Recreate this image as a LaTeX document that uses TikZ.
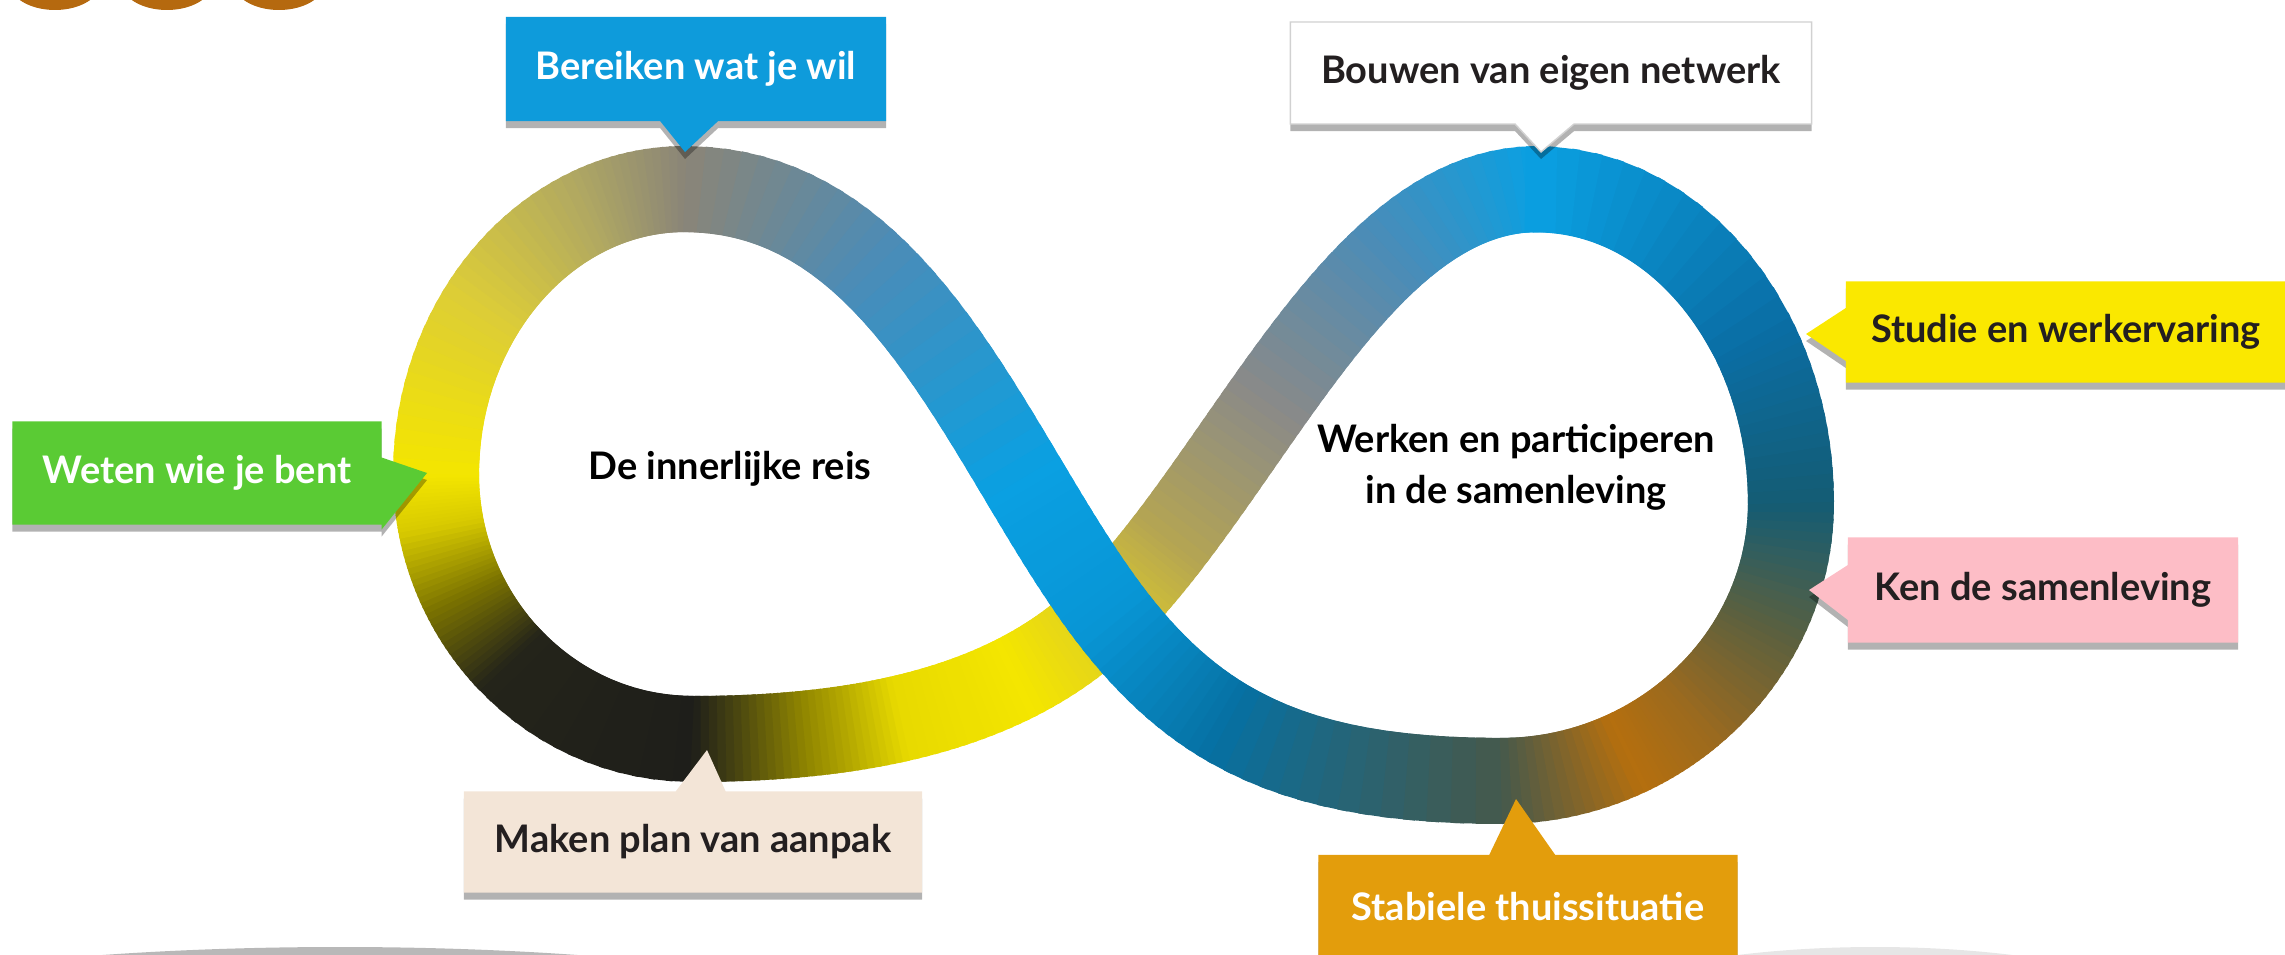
\documentclass[tikz,border=0pt]{standalone}
\usepackage{fontspec}
\setmainfont{Lato}
\usetikzlibrary{shapes.callouts,shadows}
\definecolor{cGray}{HTML}{8A8578}
\definecolor{cSteel}{HTML}{4A8CB8}
\definecolor{cBBlue}{HTML}{0AA0E2}
\definecolor{cBlue}{HTML}{0896D6}
\definecolor{cDBlueA}{HTML}{0670A2}
\definecolor{cSlate}{HTML}{45594C}
\definecolor{cOrange}{HTML}{B56F0E}
\definecolor{cOrangeB}{HTML}{9C6A1E}
\definecolor{cOliveB}{HTML}{5A6040}
\definecolor{cTeal}{HTML}{145C74}
\definecolor{cDBlueB}{HTML}{0A6EA5}
\definecolor{cGrayB}{HTML}{8A8A88}
\definecolor{cKhaki}{HTML}{B5A552}
\definecolor{cGold}{HTML}{DCCB2A}
\definecolor{cYellow}{HTML}{F4E600}
\definecolor{cYellowB}{HTML}{E8DA00}
\definecolor{cOlive}{HTML}{8F8500}
\definecolor{cBlack}{HTML}{1E1E1A}
\definecolor{cBlackB}{HTML}{24241A}
\definecolor{cOliveC}{HTML}{7A7200}
\definecolor{cYellowC}{HTML}{D8CA00}
\definecolor{cYK}{HTML}{DCCC38}
\definecolor{cKhakiB}{HTML}{B0A862}
\definecolor{labBlue}{HTML}{0E9BDB}
\definecolor{labYellow}{HTML}{FAE800}
\definecolor{labPink}{HTML}{FDBDC6}
\definecolor{labGreen}{HTML}{5ACB34}
\definecolor{labBeige}{HTML}{F3E5D7}
\definecolor{labOrange}{HTML}{E39D0C}
\definecolor{txtDark}{HTML}{231F20}
\definecolor{decoBrown}{HTML}{B5690F}
\definecolor{decoGray}{HTML}{B8B8B8}
\definecolor{decoLight}{HTML}{E6E6E6}
\tikzset{
  bandline/.style={line width=0.86cm, line cap=butt},
  lab/.style={rectangle callout, inner sep=0pt, minimum height=1.02cm,
    font=\fontsize{10.8}{13}\selectfont\bfseries,
    drop shadow={shadow xshift=0pt, shadow yshift=-2pt, opacity=0.3, fill=black}},
  centertext/.style={font=\fontsize{10.8}{14.5}\selectfont\bfseries, text=black, align=center}
}
\newcommand\bandN{14}
\newcommand\bandpiece[8]{%
  \foreach \bk in {1,...,\bandN}{%
    \pgfmathsetmacro\bandTa{#5+(#6-(#5))*(\bk-1)/\bandN}%
    \pgfmathsetmacro\bandTb{#5+(#6-(#5))*(\bk+0.6)/\bandN}%
    \pgfmathsetmacro\bandPc{100*(\bk-0.5)/\bandN}%
    \colorlet{bandc}{#8!\bandPc!#7}%
    \path (#1) .. controls (#2) and (#3) .. (#4) coordinate[pos=\bandTa] (qa) coordinate[pos=\bandTb] (qb);%
    \draw[bandline, draw=bandc] (qa) -- (qb);%
  }%
}
\begin{document}
\begin{tikzpicture}[x=0.01cm,y=-0.01cm]
\useasboundingbox (0,0) rectangle (2285,955);
\clip (0,0) rectangle (2285,955);
% decorations
\fill[decoBrown] (55,-18) ellipse [x radius=46, y radius=28];
\fill[decoBrown] (167,-18) ellipse [x radius=46, y radius=28];
\fill[decoBrown] (279,-18) ellipse [x radius=46, y radius=28];
\fill[decoGray] (340,1047) ellipse [x radius=605, y radius=100];
\fill[decoLight] (1875,1047) ellipse [x radius=350, y radius=100];
% centerline key points
\coordinate (LT) at (685,189);
\coordinate (A1) at (905,189);
\coordinate (A2) at (988,452);
\coordinate (X) at (1108,612);
\coordinate (B1) at (1198,732);
\coordinate (B2) at (1301,781);
\coordinate (RB) at (1501,781);
\coordinate (C11) at (1660,781);
\coordinate (C12) at (1791,656);
\coordinate (RR) at (1791,503);
\coordinate (C21) at (1791,330);
\coordinate (C22) at (1677,189);
\coordinate (RT) at (1537,189);
\coordinate (D1) at (1357,189);
\coordinate (D2) at (1248,472);
\coordinate (E1) at (1024,696);
\coordinate (E2) at (892,739);
\coordinate (LB) at (692,739);
\coordinate (F11) at (551,739);
\coordinate (F12) at (436,620);
\coordinate (LL) at (436,474);
\coordinate (F21) at (436,317);
\coordinate (F22) at (548,189);
% under strand
\bandpiece{RT}{D1}{D2}{X}{0}{0.3}{cBBlue}{cSteel}
\bandpiece{RT}{D1}{D2}{X}{0.3}{0.6}{cSteel}{cGrayB}
\bandpiece{RT}{D1}{D2}{X}{0.6}{0.85}{cGrayB}{cKhaki}
\bandpiece{RT}{D1}{D2}{X}{0.85}{1}{cKhaki}{cGold}
\bandpiece{X}{E1}{E2}{LB}{0}{0.3}{cGold}{cYellow}
\bandpiece{X}{E1}{E2}{LB}{0.3}{0.6}{cYellow}{cYellowB}
\bandpiece{X}{E1}{E2}{LB}{0.6}{0.8}{cYellowB}{cOlive}
\bandpiece{X}{E1}{E2}{LB}{0.8}{1}{cOlive}{cBlack}
% left loop
\bandpiece{LB}{F11}{F12}{LL}{0}{0.5}{cBlack}{cBlackB}
\bandpiece{LB}{F11}{F12}{LL}{0.5}{0.7}{cBlackB}{cOliveC}
\bandpiece{LB}{F11}{F12}{LL}{0.7}{0.88}{cOliveC}{cYellowC}
\bandpiece{LB}{F11}{F12}{LL}{0.88}{1}{cYellowC}{cYellow}
\bandpiece{LL}{F21}{F22}{LT}{0}{0.4}{cYellow}{cYK}
\bandpiece{LL}{F21}{F22}{LT}{0.4}{0.75}{cYK}{cKhakiB}
\bandpiece{LL}{F21}{F22}{LT}{0.75}{1}{cKhakiB}{cGray}
% over strand
\bandpiece{LT}{A1}{A2}{X}{0}{0.35}{cGray}{cSteel}
\bandpiece{LT}{A1}{A2}{X}{0.35}{0.75}{cSteel}{cBBlue}
\bandpiece{LT}{A1}{A2}{X}{0.75}{1}{cBBlue}{cBlue}
\bandpiece{X}{B1}{B2}{RB}{0}{0.4}{cBlue}{cDBlueA}
\bandpiece{X}{B1}{B2}{RB}{0.4}{1}{cDBlueA}{cSlate}
% right loop
\bandpiece{RB}{C11}{C12}{RR}{0}{0.28}{cSlate}{cOrange}
\bandpiece{RB}{C11}{C12}{RR}{0.28}{0.45}{cOrange}{cOrangeB}
\bandpiece{RB}{C11}{C12}{RR}{0.45}{0.72}{cOrangeB}{cOliveB}
\bandpiece{RB}{C11}{C12}{RR}{0.72}{1}{cOliveB}{cTeal}
\bandpiece{RR}{C21}{C22}{RT}{0}{0.35}{cTeal}{cDBlueB}
\bandpiece{RR}{C21}{C22}{RT}{0.35}{1}{cDBlueB}{cBBlue}
% center texts
\node[centertext] (inner) at (730,469) {De innerlijke reis};
\node[centertext] (outer) at (1516,467) {Werken en participeren\\in de samenleving};
% labels
\node[lab, fill=labBlue, text=white, minimum width=3.80cm, minimum height=1.04cm,
  callout absolute pointer={(685,152)}, callout pointer width=0.58cm] (bereiken) at (696,69) {Bereiken wat je wil};
\node[lab, fill=white, draw=black!18, text=txtDark, minimum width=5.21cm,
  callout absolute pointer={(1541,152)}, callout pointer width=0.59cm] (bouwen) at (1551,73) {Bouwen van eigen netwerk};
\node[lab, fill=labYellow, text=txtDark, minimum width=4.40cm, minimum height=1.01cm,
  callout absolute pointer={(1806,334)}, callout pointer width=0.53cm] (studie) at (2066,332) {Studie en werkervaring};
\node[lab, fill=labPink, text=txtDark, minimum width=3.90cm, minimum height=1.05cm,
  callout absolute pointer={(1809,590)}, callout pointer width=0.55cm] (ken) at (2043,590) {Ken de samenleving};
\node[lab, fill=labGreen, text=white, minimum width=3.69cm, minimum height=1.03cm,
  callout absolute pointer={(427,473)}, callout pointer width=0.72cm] (weten) at (197,473) {Weten wie je bent};
\node[lab, fill=labBeige, text=txtDark, minimum width=4.58cm, minimum height=1.01cm,
  callout absolute pointer={(707,750)}, callout pointer width=0.50cm] (maken) at (693,842) {Maken plan van aanpak};
\node[lab, fill=labOrange, text=white, minimum width=4.19cm, minimum height=1.04cm,
  callout absolute pointer={(1516,799)}, callout pointer width=0.66cm] (stabiele) at (1528,907) {Stabiele thuissituatie};
\end{tikzpicture}
\end{document}
